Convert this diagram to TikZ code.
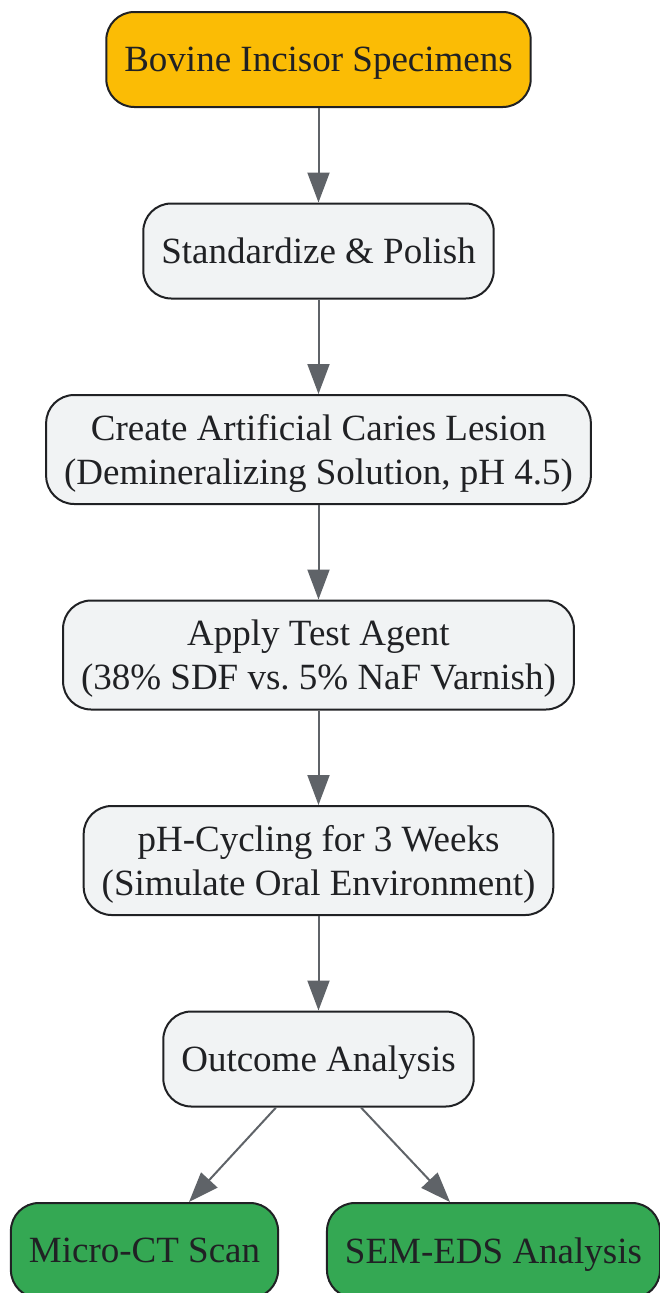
\documentclass[tikz,border=0pt]{standalone}
\usepackage{fontspec}
\setmainfont{Liberation Serif}
\usetikzlibrary{arrows.meta,positioning,calc}
\definecolor{startyellow}{HTML}{FBBC05}
\definecolor{stepgray}{HTML}{F1F3F4}
\definecolor{endgreen}{HTML}{34A853}
\definecolor{edgegray}{HTML}{5F6368}
\definecolor{inkdark}{HTML}{202124}

\begin{document}
\begin{tikzpicture}[node distance=94.5pt,
    every node/.style={font=\fontsize{37}{44}\selectfont,text=inkdark}]
  \tikzstyle{boxA}=[rectangle,rounded corners=28pt,draw=inkdark,line width=2pt,align=center,inner xsep=18pt,inner ysep=0pt,text depth=-4pt]
  \tikzstyle{startB}=[boxA,fill=startyellow,minimum height=95pt]
  \tikzstyle{stepB}=[boxA,fill=stepgray,minimum height=95pt]
  \tikzstyle{stepBB}=[boxA,fill=stepgray,minimum height=109pt]
  \tikzstyle{endB}=[boxA,fill=endgreen,minimum height=95pt]
  \tikzstyle{arr}=[-{Triangle[length=30pt,width=22pt]},color=edgegray,line width=2pt]
  \useasboundingbox (0,0) rectangle (659pt,-1293pt);
  % Steps
  \node[startB] (spec) at (318.5pt,-59.5pt) {Bovine Incisor Specimens};
  \node[stepB] (polish) [below=of spec] {Standardize \& Polish};
  \node[stepBB] (lesion) [below=of polish] {Create Artificial Caries Lesion\\(Demineralizing Solution, pH 4.5)};
  \node[stepBB] (agent) [below=of lesion] {Apply Test Agent\\(38\% SDF vs.\ 5\% NaF Varnish)};
  \node[stepBB] (cycle) [below=of agent] {pH-Cycling for 3 Weeks\\(Simulate Oral Environment)};
  \node[stepB] (outcome) [below=of cycle] {Outcome Analysis};
  \node[endB] (microct) [below=of outcome, xshift=-174pt] {Micro-CT Scan};
  \node[endB] (semeds) [below=of outcome, xshift=175pt] {SEM-EDS Analysis};
  % Arrows
  \path (spec) edge[arr] (polish);
  \path (polish) edge[arr] (lesion);
  \path (lesion) edge[arr] (agent);
  \path (agent) edge[arr] (cycle);
  \path (cycle) edge[arr] (outcome);
  \path ($(outcome.south)+(-42.5pt,0)$) edge[arr] ($(microct.north)+(44.5pt,0)$);
  \path ($(outcome.south)+(42.5pt,0)$) edge[arr] ($(semeds.north)+(-43.5pt,0)$);
\end{tikzpicture}
\end{document}
